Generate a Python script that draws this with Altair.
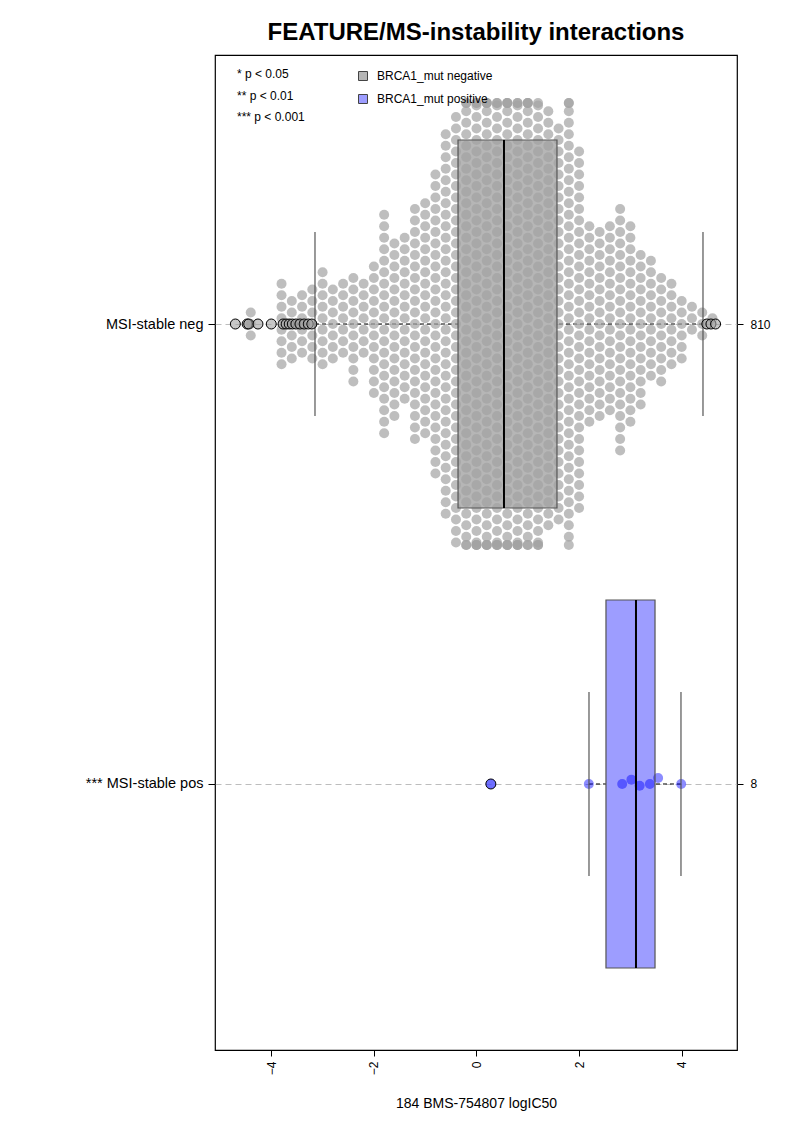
import math
import altair as alt
import pandas as pd

TITLE = "FEATURE/MS-instability interactions"
X_TITLE = "184 BMS-754807 logIC50"
P_TEXT = "* p < 0.05\n** p < 0.01\n*** p < 0.001"

groups = ["MSI-stable neg", "*** MSI-stable pos"]
group_y = [2, 1]
group_n = ["810", "8"]
status = ["BRCA1_mut negative", "BRCA1_mut positive"]

box_q1 = [-0.36, 2.524]
box_med = [0.536, 3.109]
box_q3 = [1.569, 3.480]
whisk_lo = [-3.148, 2.193]
whisk_hi = [4.415, 3.986]

# beeswarm of the 810 MSI-stable-neg lines, read as counts per 0.2-wide column
neg_bin_x = [-4.6, -4.4, -4.2, -4.0, -3.8, -3.6, -3.4, -3.2, -3.0, -2.8,
             -2.6, -2.4, -2.2, -2.0, -1.8, -1.6, -1.4, -1.2, -1.0, -0.8,
             -0.6, -0.4, -0.2, 0.0, 0.2, 0.4, 0.6, 0.8, 1.0, 1.2,
             1.4, 1.6, 1.8, 2.0, 2.2, 2.4, 2.6, 2.8, 3.0, 3.2,
             3.4, 3.6, 3.8, 4.0, 4.2, 4.4, 4.6]
neg_bin_n = [0, 3, 0, 0, 8, 6, 6, 7, 9, 7,
             7, 10, 7, 12, 20, 16, 15, 21, 21, 27,
             34, 38, 42, 44, 44, 44, 44, 44, 43, 42,
             37, 35, 41, 32, 18, 17, 17, 22, 18, 14,
             11, 10, 8, 6, 3, 3, 1]
neg_outliers = [-4.70, -4.47, -4.44, -4.26, -4.00, -3.77, -3.71, -3.65,
                -3.59, -3.52, -3.44, -3.36, -3.28, -3.21, 4.49, 4.57, 4.66]

pos_values = [0.28, 2.19, 2.84, 3.02, 3.18, 3.38, 3.54, 3.99]
pos_outliers = [0.28]

# ---- scales / layout constants ----
W, H = 522, 995
X_DOM = [-5.097, 5.078]
Y_DOM = [0.4217, 2.5848]
PX_X = W / (X_DOM[1] - X_DOM[0])
PX_Y = H / (Y_DOM[1] - Y_DOM[0])
STEP = 11.5 / PX_Y
CAP = 221.0 / PX_Y
FONT = "Liberation Sans"

xs = alt.Scale(domain=X_DOM, nice=False, zero=False)
ys = alt.Scale(domain=Y_DOM, nice=False, zero=False)


def swarm(vals, d=10.2):
    placed, out = [], []
    for v in vals:
        xp = v * PX_X
        cands = [0.0]
        for px, py in placed:
            dx = abs(xp - px)
            if dx < d:
                h = math.sqrt(d * d - dx * dx)
                cands += [py + h, py - h]

        def ok(yv):
            return all((xp - px) ** 2 + (yv - py) ** 2 >= d * d - 1e-6 for px, py in placed)

        best = min((c for c in cands if ok(c)), key=lambda c: (round(abs(c), 3), -c))
        placed.append((xp, best))
        out.append(best / PX_Y)
    return out


box_df = pd.DataFrame({"group": groups, "gy": group_y, "q1": box_q1, "med": box_med,
                       "q3": box_q3, "lo": whisk_lo, "hi": whisk_hi,
                       "status": status, "n": group_n})
neg_df = pd.DataFrame({"x": [c for c, n in zip(neg_bin_x, neg_bin_n) for _ in range(n)]})
pos_df = pd.DataFrame({"x": pos_values, "yy": [1 + o for o in swarm(pos_values)]})
out_df = pd.DataFrame({
    "x": neg_outliers + pos_outliers,
    "gy": [2] * len(neg_outliers) + [1] * len(pos_outliers),
    "status": [status[0]] * len(neg_outliers) + [status[1]] * len(pos_outliers),
})

x_axis = alt.Axis(values=[-4, -2, 0, 2, 4], labelAngle=270, title=X_TITLE,
                  titleFontSize=14, titleFontWeight="normal", titleFont=FONT,
                  labelFont=FONT, labelFontSize=12, labelColor="black",
                  titleColor="black", tickColor="black", tickSize=6, tickOffset=0,
                  labelPadding=5, titlePadding=22, domain=False, grid=False)
y_left = alt.Axis(values=[1, 2], orient="left",
                  labelExpr="datum.value == 2 ? 'MSI-stable neg' : '*** MSI-stable pos'",
                  labelFont=FONT, labelFontSize=14.5, labelColor="black",
                  tickColor="black", tickSize=7, labelPadding=5, title=None,
                  domain=False, grid=True, gridDash=[6, 4], gridColor="#bdbdbd",
                  gridWidth=1)
y_right = alt.Axis(values=[1, 2], orient="right",
                   labelExpr="datum.value == 2 ? '810' : '8'",
                   labelFont=FONT, labelFontSize=12, labelColor="black",
                   tickColor="black", tickSize=6, labelPadding=7, title=None,
                   domain=False, grid=False)

color = alt.Color("status:N", scale=alt.Scale(domain=status, range=["#b6b6b6", "#9d9dff"]),
                  legend=alt.Legend(title=None, orient="none", legendX=142, legendY=15,
                                    symbolType="square", symbolSize=81,
                                    symbolStrokeColor="#444", symbolStrokeWidth=1,
                                    labelFont=FONT, labelFontSize=12, labelColor="black",
                                    labelOffset=8, rowPadding=9))

base = alt.Chart(box_df).transform_calculate(
    by="datum.gy - 0.4", ty="datum.gy + 0.4",
    sb="datum.gy - 0.2", st="datum.gy + 0.2")

boxes = base.mark_rect().encode(
    x=alt.X("q1:Q", scale=xs, axis=x_axis), x2="q3:Q",
    y=alt.Y("by:Q", scale=ys, axis=y_left), y2="ty:Q", color=color)

whiskers = base.transform_fold(["lo", "hi"], as_=["k", "v"]).transform_calculate(
    end="datum.k == 'lo' ? datum.q1 : datum.q3"
).mark_rule(color="black", strokeDash=[4, 3], strokeWidth=1).encode(
    x=alt.X("v:Q", scale=xs, axis=None), x2="end:Q",
    y=alt.Y("gy:Q", scale=ys, axis=None))

neg_pts = alt.Chart(neg_df).transform_window(
    rank="row_number()", groupby=["x"]
).transform_calculate(
    par="abs(round(datum.x / 0.2)) % 2",
    sgn="datum.rank % 2 == 1 ? 1 : -1",
    stp="datum.par == 0 ? floor(datum.rank / 2) : ceil(datum.rank / 2) - 0.5",
    yy=f"2 + clamp(datum.sgn * datum.stp * {STEP}, -{CAP}, {CAP})"
).mark_circle(size=100, color="#a2a2a2", opacity=0.7).encode(
    x=alt.X("x:Q", scale=xs, axis=None),
    y=alt.Y("yy:Q", scale=ys, axis=None))

pos_pts = alt.Chart(pos_df).mark_circle(size=100, color="#0000ff", opacity=0.45).encode(
    x=alt.X("x:Q", scale=xs, axis=None),
    y=alt.Y("yy:Q", scale=ys, axis=None))

outlines = base.mark_rect(fillOpacity=0, stroke="#555555", strokeWidth=1.2).encode(
    x=alt.X("q1:Q", scale=xs, axis=None), x2="q3:Q",
    y=alt.Y("by:Q", scale=ys, axis=None), y2="ty:Q")

medians = base.mark_rule(color="black", strokeWidth=2).encode(
    x=alt.X("med:Q", scale=xs, axis=None),
    y=alt.Y("by:Q", scale=ys, axis=None), y2="ty:Q")

staples = base.transform_fold(["lo", "hi"], as_=["k", "v"]).mark_rule(
    color="#555555", strokeWidth=1.2).encode(
    x=alt.X("v:Q", scale=xs, axis=None),
    y=alt.Y("sb:Q", scale=ys, axis=y_right), y2="st:Q")

outl = alt.Chart(out_df).mark_point(
    filled=True, size=100, shape="circle", stroke="black", strokeWidth=1,
    opacity=1, fillOpacity=0.6).encode(
    x=alt.X("x:Q", scale=xs, axis=None),
    y=alt.Y("gy:Q", scale=ys, axis=None),
    fill=alt.Fill("status:N", scale=alt.Scale(domain=status, range=["#a2a2a2", "#5c5cff"]),
                  legend=None))

ptext = alt.Chart(pd.DataFrame({"t": [P_TEXT]})).mark_text(
    align="left", baseline="top", lineBreak="\n", lineHeight=21.5,
    font=FONT, fontSize=12, color="black").encode(
    x=alt.value(22), y=alt.value(14), text="t:N")

chart = alt.layer(boxes, whiskers, neg_pts, pos_pts, outlines, medians, staples, outl, ptext
).resolve_axis(x="independent", y="independent").properties(
    width=W, height=H,
    title=alt.Title(TITLE, fontSize=24, fontWeight="bold", font=FONT,
                    anchor="middle", offset=10, color="black"),
    autosize=alt.AutoSizeParams(type="none"),
    padding={"left": 207, "top": 47, "right": 48, "bottom": 66},
).configure_view(stroke="black", strokeWidth=1.2)

chart.save("out.html", embed_options={"renderer": "svg", "actions": False})
